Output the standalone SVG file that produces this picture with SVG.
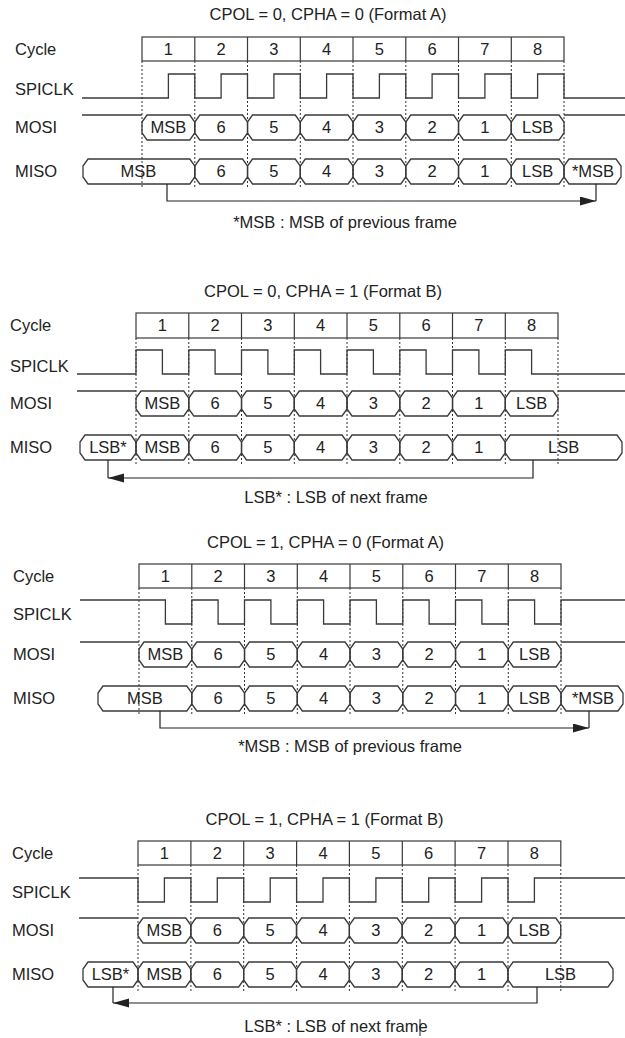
<svg xmlns="http://www.w3.org/2000/svg" width="625" height="1038" viewBox="0 0 625 1038">
<style>
text{font-family:"Liberation Sans",Arial,sans-serif;font-size:16.5px;fill:#222}
.c{text-anchor:middle}
.ln{fill:none;stroke:#3a3a3a;stroke-width:1.3}
.bus{fill:none;stroke:#3a3a3a;stroke-width:1.3}
.dot{fill:none;stroke:#333;stroke-width:1;stroke-dasharray:2 2}
.box{fill:none;stroke:#3a3a3a;stroke-width:1.2}
.arr{fill:none;stroke:#222;stroke-width:1.2}
</style>
<defs>
<path id="seg" class="bus" d="M5,0 H47.75 L52.75,7 V18 L47.75,25 H5 L0,18 V7 Z"/>
<marker id="ah" markerUnits="userSpaceOnUse" markerWidth="17" markerHeight="10" refX="16" refY="4.5" orient="auto">
<path d="M0,0 L16,4.5 L0,9 Z" fill="#222"/>
</marker>
</defs>

<!-- Panel 1 -->
<g id="panel1">
<text class="c" x="328" y="20">CPOL = 0, CPHA = 0 (Format A)</text>
<g id="p1-labels">
<text x="15" y="55">Cycle</text><text x="15" y="95">SPICLK</text><text x="15" y="133">MOSI</text><text x="15" y="177">MISO</text>
</g>
<g id="p1-cycle">
<rect class="box" x="142" y="37" width="422" height="24"/>
<path class="box" d="M194.8,37V61M247.5,37V61M300.3,37V61M353,37V61M405.8,37V61M458.5,37V61M511.3,37V61"/>
<text class="c" x="168.4" y="55">1</text><text class="c" x="221.1" y="55">2</text><text class="c" x="273.9" y="55">3</text><text class="c" x="326.6" y="55">4</text><text class="c" x="379.4" y="55">5</text><text class="c" x="432.1" y="55">6</text><text class="c" x="484.9" y="55">7</text><text class="c" x="537.6" y="55">8</text>
</g>
<path class="dot" d="M142,61V188M194.8,61V188M247.5,61V188M300.3,61V188M353,61V188M405.8,61V188M458.5,61V188M511.3,61V188M564,61V188"/>
<path id="p1-spiclk" class="ln" d="M82,98 H168.4 V74 H194.8 V98 H221.1 V74 H247.5 V98 H273.9 V74 H300.3 V98 H326.6 V74 H353 V98 H379.4 V74 H405.8 V98 H432.1 V74 H458.5 V98 H484.9 V74 H511.3 V98 H537.6 V74 H564 V98 H625"/>
<g id="p1-mosi">
<path class="ln" d="M82,115 H142 M564,115 H625"/>
<use href="#seg" x="142" y="115"/><use href="#seg" x="194.8" y="115"/><use href="#seg" x="247.5" y="115"/><use href="#seg" x="300.3" y="115"/><use href="#seg" x="353" y="115"/><use href="#seg" x="405.8" y="115"/><use href="#seg" x="458.5" y="115"/><use href="#seg" x="511.3" y="115"/>
<text class="c" x="168.4" y="133">MSB</text><text class="c" x="221.1" y="133">6</text><text class="c" x="273.9" y="133">5</text><text class="c" x="326.6" y="133">4</text><text class="c" x="379.4" y="133">3</text><text class="c" x="432.1" y="133">2</text><text class="c" x="484.9" y="133">1</text><text class="c" x="537.6" y="133">LSB</text>
</g>
<g id="p1-miso">
<path class="bus" d="M88,159 H189.8 L194.8,166 V177 L189.8,184 H88 L83,177 V166 Z"/>
<use href="#seg" x="194.8" y="159"/><use href="#seg" x="247.5" y="159"/><use href="#seg" x="300.3" y="159"/><use href="#seg" x="353" y="159"/><use href="#seg" x="405.8" y="159"/><use href="#seg" x="458.5" y="159"/><use href="#seg" x="511.3" y="159"/>
<path class="bus" d="M569,159 H616 L621,166 V177 L616,184 H569 L564,177 V166 Z"/>
<text class="c" x="138.5" y="177">MSB</text><text class="c" x="221.1" y="177">6</text><text class="c" x="273.9" y="177">5</text><text class="c" x="326.6" y="177">4</text><text class="c" x="379.4" y="177">3</text><text class="c" x="432.1" y="177">2</text><text class="c" x="484.9" y="177">1</text><text class="c" x="537.6" y="177">LSB</text><text class="c" x="593" y="177">*MSB</text>
</g>
<text class="c" x="345" y="228">*MSB : MSB of previous frame</text>
</g>

<!-- Panel 2 -->
<g id="panel2">
<text class="c" x="323" y="297">CPOL = 0, CPHA = 1 (Format B)</text>
<g id="p2-labels">
<text x="10" y="331">Cycle</text><text x="10" y="372">SPICLK</text><text x="10" y="409">MOSI</text><text x="10" y="453">MISO</text>
</g>
<g id="p2-cycle">
<rect class="box" x="136" y="313" width="422" height="25"/>
<path class="box" d="M188.8,313V338M241.5,313V338M294.3,313V338M347,313V338M399.8,313V338M452.5,313V338M505.3,313V338"/>
<text class="c" x="162.4" y="331">1</text><text class="c" x="215.1" y="331">2</text><text class="c" x="267.9" y="331">3</text><text class="c" x="320.6" y="331">4</text><text class="c" x="373.4" y="331">5</text><text class="c" x="426.1" y="331">6</text><text class="c" x="478.9" y="331">7</text><text class="c" x="531.6" y="331">8</text>
</g>
<path class="dot" d="M136,338V464M188.8,338V464M241.5,338V464M294.3,338V464M347,338V464M399.8,338V464M452.5,338V464M505.3,338V464M558,338V464"/>
<path id="p2-spiclk" class="ln" d="M77,374 H136 V350 H162.4 V374 H188.8 V350 H215.1 V374 H241.5 V350 H267.9 V374 H294.3 V350 H320.6 V374 H347 V350 H373.4 V374 H399.8 V350 H426.1 V374 H452.5 V350 H478.9 V374 H505.3 V350 H531.6 V374 H625"/>
<g id="p2-mosi">
<path class="ln" d="M77,391 H136 M558,391 H625"/>
<use href="#seg" x="136" y="391"/><use href="#seg" x="188.8" y="391"/><use href="#seg" x="241.5" y="391"/><use href="#seg" x="294.3" y="391"/><use href="#seg" x="347" y="391"/><use href="#seg" x="399.8" y="391"/><use href="#seg" x="452.5" y="391"/><use href="#seg" x="505.3" y="391"/>
<text class="c" x="162.4" y="409">MSB</text><text class="c" x="215.1" y="409">6</text><text class="c" x="267.9" y="409">5</text><text class="c" x="320.6" y="409">4</text><text class="c" x="373.4" y="409">3</text><text class="c" x="426.1" y="409">2</text><text class="c" x="478.9" y="409">1</text><text class="c" x="531.6" y="409">LSB</text>
</g>
<g id="p2-miso">
<path class="bus" d="M85,435 H131 L136,442 V453 L131,460 H85 L80,453 V442 Z"/>
<use href="#seg" x="136" y="435"/><use href="#seg" x="188.8" y="435"/><use href="#seg" x="241.5" y="435"/><use href="#seg" x="294.3" y="435"/><use href="#seg" x="347" y="435"/><use href="#seg" x="399.8" y="435"/><use href="#seg" x="452.5" y="435"/>
<path class="bus" d="M510.3,435 H617 L622,442 V453 L617,460 H510.3 L505.3,453 V442 Z"/>
<text class="c" x="108" y="453">LSB*</text><text class="c" x="162.4" y="453">MSB</text><text class="c" x="215.1" y="453">6</text><text class="c" x="267.9" y="453">5</text><text class="c" x="320.6" y="453">4</text><text class="c" x="373.4" y="453">3</text><text class="c" x="426.1" y="453">2</text><text class="c" x="478.9" y="453">1</text><text class="c" x="563.6" y="453">LSB</text>
</g>
<text class="c" x="336" y="503">LSB* : LSB of next frame</text>
</g>

<!-- Panel 3 -->
<g id="panel3">
<text class="c" x="325.5" y="548">CPOL = 1, CPHA = 0 (Format A)</text>
<g id="p3-labels">
<text x="13" y="582">Cycle</text><text x="13" y="620">SPICLK</text><text x="13" y="660">MOSI</text><text x="13" y="704">MISO</text>
</g>
<g id="p3-cycle">
<rect class="box" x="139" y="564" width="422" height="24"/>
<path class="box" d="M191.8,564V588M244.5,564V588M297.3,564V588M350,564V588M402.8,564V588M455.5,564V588M508.3,564V588"/>
<text class="c" x="165.4" y="582">1</text><text class="c" x="218.1" y="582">2</text><text class="c" x="270.9" y="582">3</text><text class="c" x="323.6" y="582">4</text><text class="c" x="376.4" y="582">5</text><text class="c" x="429.1" y="582">6</text><text class="c" x="481.9" y="582">7</text><text class="c" x="534.6" y="582">8</text>
</g>
<path class="dot" d="M139,588V715M191.8,588V715M244.5,588V715M297.3,588V715M350,588V715M402.8,588V715M455.5,588V715M508.3,588V715M561,588V715"/>
<path id="p3-spiclk" class="ln" d="M80,600 H165.4 V624 H191.8 V600 H218.1 V624 H244.5 V600 H270.9 V624 H297.3 V600 H323.6 V624 H350 V600 H376.4 V624 H402.8 V600 H429.1 V624 H455.5 V600 H481.9 V624 H508.3 V600 H534.6 V624 H561 V600 H625"/>
<g id="p3-mosi">
<path class="ln" d="M80,642 H139 M561,642 H625"/>
<use href="#seg" x="139" y="642"/><use href="#seg" x="191.8" y="642"/><use href="#seg" x="244.5" y="642"/><use href="#seg" x="297.3" y="642"/><use href="#seg" x="350" y="642"/><use href="#seg" x="402.8" y="642"/><use href="#seg" x="455.5" y="642"/><use href="#seg" x="508.3" y="642"/>
<text class="c" x="165.4" y="660">MSB</text><text class="c" x="218.1" y="660">6</text><text class="c" x="270.9" y="660">5</text><text class="c" x="323.6" y="660">4</text><text class="c" x="376.4" y="660">3</text><text class="c" x="429.1" y="660">2</text><text class="c" x="481.9" y="660">1</text><text class="c" x="534.6" y="660">LSB</text>
</g>
<g id="p3-miso">
<path class="bus" d="M103,686 H186.8 L191.8,693 V704 L186.8,711 H103 L98,704 V693 Z"/>
<use href="#seg" x="191.8" y="686"/><use href="#seg" x="244.5" y="686"/><use href="#seg" x="297.3" y="686"/><use href="#seg" x="350" y="686"/><use href="#seg" x="402.8" y="686"/><use href="#seg" x="455.5" y="686"/><use href="#seg" x="508.3" y="686"/>
<path class="bus" d="M566,686 H618 L623,693 V704 L618,711 H566 L561,704 V693 Z"/>
<text class="c" x="145" y="704">MSB</text><text class="c" x="218.1" y="704">6</text><text class="c" x="270.9" y="704">5</text><text class="c" x="323.6" y="704">4</text><text class="c" x="376.4" y="704">3</text><text class="c" x="429.1" y="704">2</text><text class="c" x="481.9" y="704">1</text><text class="c" x="534.6" y="704">LSB</text><text class="c" x="593" y="704">*MSB</text>
</g>
<text class="c" x="350" y="752">*MSB : MSB of previous frame</text>
</g>

<!-- Panel 4 -->
<g id="panel4">
<text class="c" x="324.5" y="825">CPOL = 1, CPHA = 1 (Format B)</text>
<g id="p4-labels">
<text x="12" y="859">Cycle</text><text x="12" y="898">SPICLK</text><text x="12" y="936">MOSI</text><text x="12" y="980">MISO</text>
</g>
<g id="p4-cycle">
<rect class="box" x="138" y="841" width="422.8" height="24"/>
<path class="box" d="M190.9,841V865M243.7,841V865M296.6,841V865M349.4,841V865M402.3,841V865M455.1,841V865M508,841V865"/>
<text class="c" x="164.4" y="859">1</text><text class="c" x="217.3" y="859">2</text><text class="c" x="270.2" y="859">3</text><text class="c" x="323" y="859">4</text><text class="c" x="375.9" y="859">5</text><text class="c" x="428.7" y="859">6</text><text class="c" x="481.6" y="859">7</text><text class="c" x="534.4" y="859">8</text>
</g>
<path class="dot" d="M138,865V991M190.9,865V991M243.7,865V991M296.6,865V991M349.4,865V991M402.3,865V991M455.1,865V991M508,865V991M560.8,865V991"/>
<path id="p4-spiclk" class="ln" d="M79,878 H138 V902 H164.4 V878 H190.9 V902 H217.3 V878 H243.7 V902 H270.2 V878 H296.6 V902 H323 V878 H349.4 V902 H375.9 V878 H402.3 V902 H428.7 V878 H455.1 V902 H481.6 V878 H508 V902 H534.4 V878 H625"/>
<g id="p4-mosi">
<path class="ln" d="M79,918 H138 M560.8,918 H625"/>
<use href="#seg" x="138" y="918"/><use href="#seg" x="190.9" y="918"/><use href="#seg" x="243.7" y="918"/><use href="#seg" x="296.6" y="918"/><use href="#seg" x="349.4" y="918"/><use href="#seg" x="402.3" y="918"/><use href="#seg" x="455.1" y="918"/><use href="#seg" x="508" y="918"/>
<text class="c" x="164.4" y="936">MSB</text><text class="c" x="217.3" y="936">6</text><text class="c" x="270.2" y="936">5</text><text class="c" x="323" y="936">4</text><text class="c" x="375.9" y="936">3</text><text class="c" x="428.7" y="936">2</text><text class="c" x="481.6" y="936">1</text><text class="c" x="534.4" y="936">LSB</text>
</g>
<g id="p4-miso">
<path class="bus" d="M88,962 H133 L138,969 V980 L133,987 H88 L83,980 V969 Z"/>
<use href="#seg" x="138" y="962"/><use href="#seg" x="190.9" y="962"/><use href="#seg" x="243.7" y="962"/><use href="#seg" x="296.6" y="962"/><use href="#seg" x="349.4" y="962"/><use href="#seg" x="402.3" y="962"/><use href="#seg" x="455.1" y="962"/>
<path class="bus" d="M513,962 H608 L613,969 V980 L608,987 H513 L508,980 V969 Z"/>
<text class="c" x="110.5" y="980">LSB*</text><text class="c" x="164.4" y="980">MSB</text><text class="c" x="217.3" y="980">6</text><text class="c" x="270.2" y="980">5</text><text class="c" x="323" y="980">4</text><text class="c" x="375.9" y="980">3</text><text class="c" x="428.7" y="980">2</text><text class="c" x="481.6" y="980">1</text><text class="c" x="560.5" y="980">LSB</text>
</g>
<text class="c" x="336" y="1032">LSB* : LSB of next frame</text>
<path d="M420,1019 V1036" stroke="#222" stroke-width="1"/>
</g>

<!-- Connectors -->
<g id="connectors">
<path class="arr" d="M167,184 V201 H596" marker-end="url(#ah)"/>
<path class="arr" d="M596,201 V184"/>
<path class="arr" d="M533,460 V478 H108" marker-end="url(#ah)"/>
<path class="arr" d="M108,478 V460"/>
<path class="arr" d="M160,711 V728 H589" marker-end="url(#ah)"/>
<path class="arr" d="M589,728 V711"/>
<path class="arr" d="M537,987 V1003 H113" marker-end="url(#ah)"/>
<path class="arr" d="M113,1003 V987"/>
</g>
</svg>
